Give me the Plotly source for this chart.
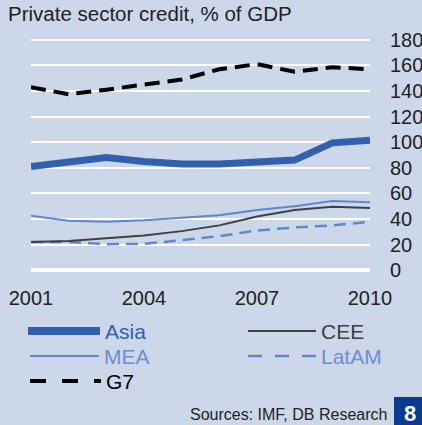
import plotly.graph_objects as go

# Private sector credit, % of GDP, by region
years = [2001, 2002, 2003, 2004, 2005, 2006, 2007, 2008, 2009, 2010]
asia = [81, 85, 88, 85, 83, 83, 84, 86, 99.5, 101.5]
cee = [22, 22.7, 25, 27, 30.5, 35, 42, 47, 49.5, 48.5]
mea = [42.5, 38.6, 37.8, 39, 41, 43, 47, 50, 54, 53]
latam = [22, 22, 20.3, 20.5, 23.5, 26.6, 31, 33.4, 35, 37.8]
g7 = [143, 137.5, 141, 145, 149, 157, 161, 155, 158.6, 157]

y_ticks = [0, 20, 40, 60, 80, 100, 120, 140, 160, 180]
x_ticks = [2001, 2004, 2007, 2010]

BG = "#ccd7e9"
ASIA_C = "#3060ae"
LIGHT_C = "#5f87c9"
LIGHT_TXT = "#6a8fd0"
CEE_C = "#404040"
FONT = "Liberation Sans, Arial, sans-serif"

series = [
    ("MEA", mea, dict(color=LIGHT_C, width=2)),
    ("LatAM", latam, dict(color=LIGHT_C, width=2.5, dash="12px,7px")),
    ("CEE", cee, dict(color=CEE_C, width=2)),
    ("Asia", asia, dict(color=ASIA_C, width=7)),
    ("G7", g7, dict(color="black", width=4, dash="15px,8px")),
]

fig = go.Figure()
for name, vals, line in series:
    fig.add_trace(go.Scatter(x=years, y=vals, mode="lines", name=name,
                             line=line, showlegend=False, cliponaxis=False))

fig.update_layout(
    width=422, height=425,
    margin=dict(l=31, r=52, t=36, b=151, autoexpand=False),
    paper_bgcolor=BG, plot_bgcolor=BG,
    font=dict(family=FONT, size=20, color="#222222"),
    xaxis=dict(range=[2001, 2010], tickvals=x_ticks, showgrid=False,
               zeroline=False, showline=False, ticks="", automargin=False,
               ticklabelstandoff=10, tickfont=dict(size=20)),
    yaxis=dict(range=[-3, 183], tickvals=y_ticks, side="right",
               showgrid=True, gridcolor="white", gridwidth=2,
               zeroline=True, zerolinecolor="white", zerolinewidth=4,
               showline=False, ticks="", automargin=False,
               ticklabelstandoff=19, tickfont=dict(size=20)),
)

fig.add_annotation(text="Private sector credit, % of GDP", xref="paper",
                   yref="paper", x=-25 / 339, y=1 + 22 / 238,
                   xanchor="left", yanchor="middle", showarrow=False,
                   font=dict(size=20.5, color="#222222"))

# legend drawn as line samples with labels
def px_x(px):
    return (px - 31) / 339

def px_y(py):
    return (274 - py) / 238

legend = [
    ("Asia", 28, 100, 331, dict(color=ASIA_C, width=8), ASIA_C),
    ("CEE", 248, 316, 331, dict(color=CEE_C, width=2), CEE_C),
    ("MEA", 30, 99, 356, dict(color=LIGHT_C, width=2), LIGHT_TXT),
    ("LatAM", 248, 316, 356, dict(color=LIGHT_C, width=2.5, dash="14px,13px"), LIGHT_TXT),
    ("G7", 30, 101, 381, dict(color="black", width=4, dash="16px,16px"), "black"),
]
for name, x0, x1, yy, ln, tc in legend:
    fig.add_shape(type="line", xref="paper", yref="paper",
                  x0=px_x(x0), x1=px_x(x1), y0=px_y(yy), y1=px_y(yy), line=ln)
    fig.add_annotation(text=name, xref="paper", yref="paper",
                       x=px_x(x1 + 3), y=px_y(yy), xanchor="left",
                       yanchor="middle", showarrow=False,
                       font=dict(size=21, color=tc))

fig.add_annotation(text="Sources: IMF, DB Research", xref="paper", yref="paper",
                   x=px_x(389), y=px_y(414), xanchor="right", yanchor="middle",
                   showarrow=False, font=dict(size=16, color="#222222"))
fig.add_shape(type="rect", xref="paper", yref="paper",
              x0=px_x(394), x1=px_x(425), y0=px_y(397), y1=px_y(428),
              fillcolor="#0b3a93", line=dict(width=0))
fig.add_annotation(text="<b>8</b>", xref="paper", yref="paper",
                   x=px_x(402), y=px_y(413), xanchor="left", yanchor="middle",
                   showarrow=False, font=dict(size=22, color="white"))

fig.write_html("out.html")
